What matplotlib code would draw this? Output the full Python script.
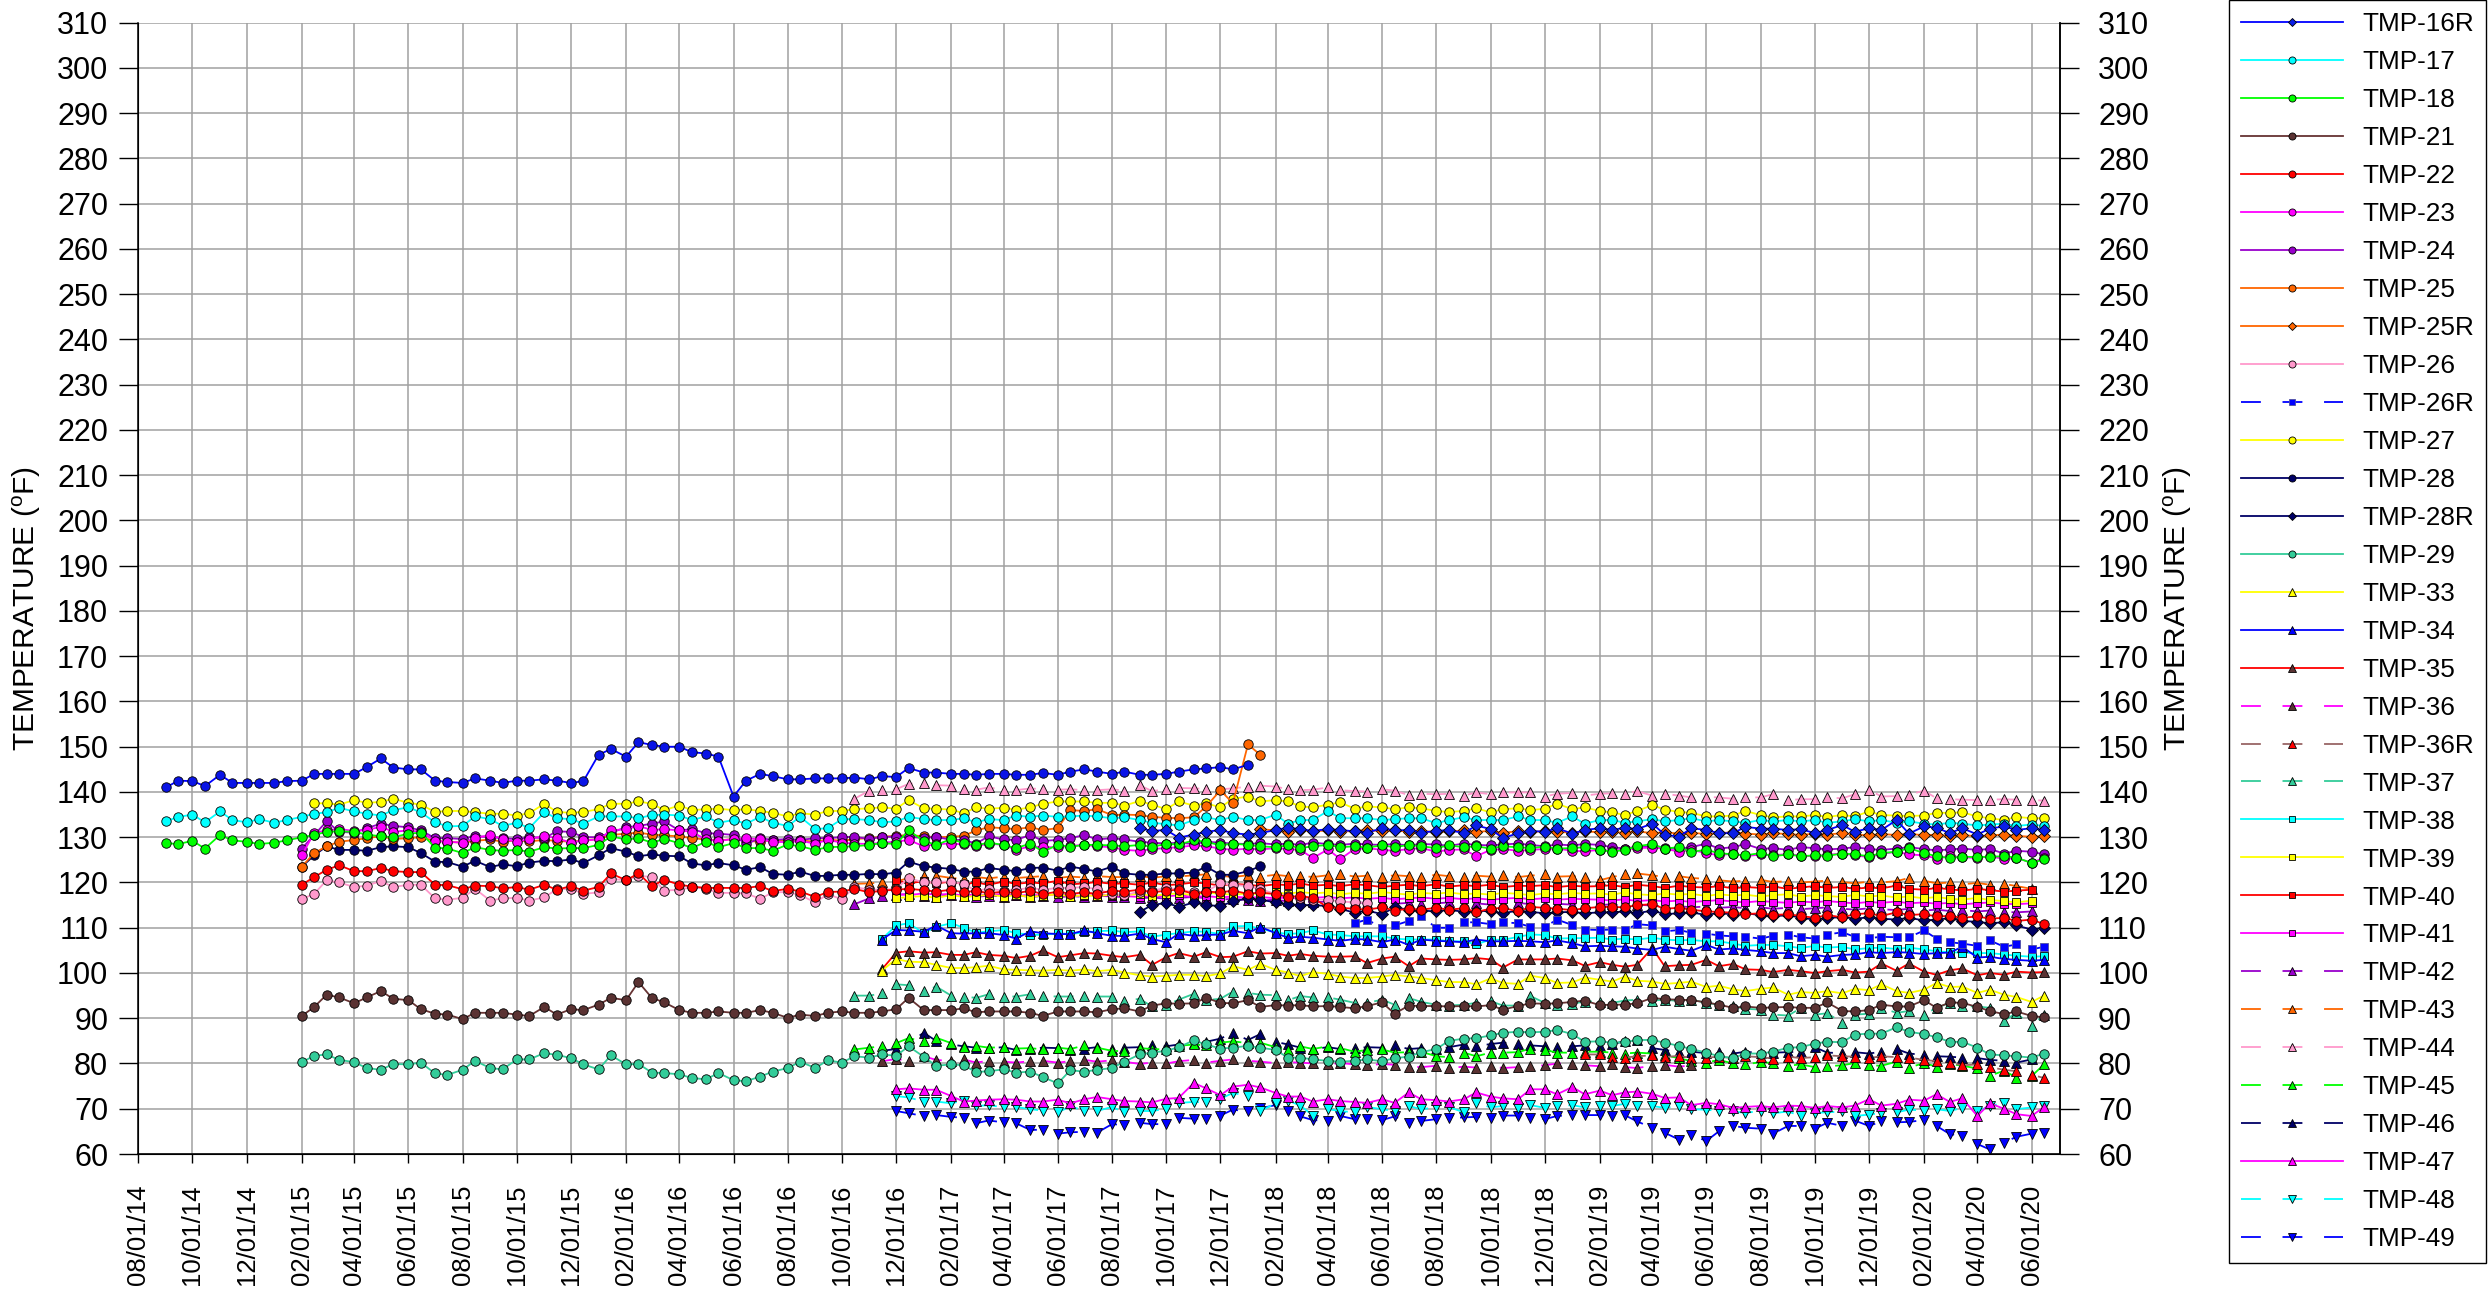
import matplotlib
matplotlib.use("Agg")
import matplotlib.pyplot as plt
import matplotlib.dates as mdates
from matplotlib.lines import Line2D
import pandas as pd

plt.rcParams["font.family"] = ["Liberation Sans", "DejaVu Sans"]
plt.rcParams["mathtext.fontset"] = "custom"
plt.rcParams["mathtext.rm"] = "Liberation Sans"

# Semi-monthly temperature readings (deg F), one list per sensor.
tmp_16 = [141, 142.5, 142.4, 141.3, 143.8, 142, 142, 142, 142, 142.4, 142.5, 144, 144, 144, 144, 145.5, 147.4,
          145.4, 145, 145, 142.5, 142.2, 142, 143, 142.5, 142, 142.5, 142.5, 142.8, 142.5, 142, 142.4, 148.2, 149.5,
          147.8, 151, 150.4, 150, 150, 148.8, 148.5, 147.8, 139, 142.5, 144, 143.5, 142.8, 142.8, 143, 143, 143,
          143.2, 142.8, 143.5, 143.3, 145.3, 144.3, 144.3, 144, 144, 143.8, 144, 144, 143.8, 143.8, 144.2, 143.8,
          144.5, 145, 144.5,
          144, 144.5, 143.8, 143.8, 144, 144.5, 145, 145.2, 145.5, 145, 146]
tmp_16r = [132, 131.4, 131.6, 129.9, 130.6, 131.2, 131.6, 130.9, 130.6, 130.9, 131.6, 132.1, 131.8, 131.4, 131.8,
           131.6, 131.3, 131, 132, 131.5, 131.6, 131, 131.4, 131.6, 130.9, 132.6, 131.8, 129.8, 130.9, 131.4, 131.2,
           132, 130.8, 131.6, 132,
           131.6, 132.1, 131.8, 133, 130.6, 130.1, 132, 131.6, 130.9, 130.9, 132.3, 131.9, 131.9, 131.6, 131.8, 130.9,
           131.6, 132.7, 131.2, 132, 131.6, 133.8, 130.8, 132.4, 132.1, 130.9, 132, 130.6, 131.9, 132.4, 131.6, 132,
           131.6]
tmp_17 = [133.5, 134.5, 135, 133.3, 135.7, 133.8, 133.3, 134, 133.2, 133.8, 134.5, 135.2, 135.5, 136.5, 135.7,
          135.2, 134.8, 136, 136.6, 135.5, 133.3, 132.4, 132.5, 134.6, 134, 132.5, 133.2, 132, 135.5, 134.2, 134,
          133, 134.6, 134.6,
          134.6, 134.2, 134.9, 135, 134.8, 133.8, 134.6, 133.2, 133.8, 133, 134.5, 133.2, 132.5, 134.5, 131.8, 132,
          134, 134, 133.8, 133.3, 133.5, 134.5, 134, 133.8, 133.8, 134.2, 133.3, 134, 133.8, 134.8, 134.5, 134.8,
          134.5, 134.6, 134.8, 134.6,
          134.2, 134.4, 133.8, 133.2, 132.9, 132.6, 133.8, 134.4, 133.8, 134.5, 133.8, 133.8, 135, 133, 133.8, 133.8,
          135.8, 134.2, 134.2, 134.2, 133.8, 134, 134.2, 134.2, 133.1, 133.8, 134.4, 133.8, 133.8, 133.8, 134.6,
          133.8, 133.8, 133.2, 134.6, 133,
          133.8, 133.8, 133.2, 133.5, 134, 133.5, 133.8, 134.2, 133.5, 133.8, 133.5, 133.2, 133.8, 133.5, 133.8,
          133.5, 133.8, 133.2, 133.5, 134, 133.5, 133.8, 133.2, 133.5, 133, 132.8, 133.2, 133, 132.6, 132.8, 133,
          132.5, 132.8, 132.5]
tmp_18 = [128.7, 128.5, 129.2, 127.5, 130.5, 129.3, 129, 128.5, 128.8, 129.3, 130, 130.5, 131.2, 131.3, 131.2,
          130.6, 130.2, 130, 130.8, 131, 127.7, 127.5, 126.5, 127.8, 127.2, 127, 127.2, 126.8, 127.8, 127.5, 127.6,
          127.6, 128.3, 130.2,
          129.5, 129.8, 128.8, 129.6, 128.7, 127.6, 129, 127.8, 128.7, 127.6, 127.6, 127, 128.4, 128, 127.2, 127.8,
          127.9, 128, 128.3, 128.7, 128.5, 131.5, 129.2, 128.3, 129.6, 128.7, 128.2, 128.8, 128.3, 127.6, 128.6,
          126.8, 128.3, 127.9, 128.3, 128.3,
          128.2, 128, 128.3, 127.9, 128.5, 128.4, 129.3, 129, 128.2, 128.6, 128.3, 128, 127.8, 128.2, 127.6, 128,
          128.3, 127.8, 128, 127.7, 128.2, 127.8, 128.3, 128, 127.6, 128.2, 127.8, 128, 127.5, 128, 127.8, 127.6,
          127.9, 127.5, 127.6, 127.8,
          127.2, 126.8, 127.2, 128, 128.5, 127.5, 127.8, 126.8, 127.2, 126.5, 126.2, 126, 126.5, 125.8, 126.2, 125.8,
          126, 125.9, 126.4, 126.2, 125.8, 126.5, 126.8, 127.6, 126.5, 125.8, 125.4, 125.7, 125.6, 125.7, 125.8,
          125.5, 124.3, 125.1]
tmp_21 = [90.5, 92.5, 95.2, 94.6, 93.3, 94.6, 96, 94.3, 94, 92, 91, 90.8, 89.8, 91.2, 91.2, 91.2, 90.8, 90.5, 92.5,
          90.8, 92, 91.8, 93, 94.5,
          94, 98, 94.5, 93.5, 91.8, 91.2, 91.2, 91.5, 91.2, 91.2, 91.8, 91.2, 90.1, 90.8, 90.5, 91.2, 91.5, 91.2,
          91.2, 91.5, 92, 94.5, 91.8, 91.8, 91.8, 92.2, 91.3, 91.5, 91.5, 91.5, 91.2, 90.5, 91.5, 91.5, 91.5, 91.3,
          92, 92.2, 91.5, 92.8, 93.3, 93.2, 93.3, 94.5, 93.4, 93.3, 94, 92.5, 92.9, 92.8, 92.9, 92.6, 92.7, 92.5,
          92.2, 92.7, 93.5, 91, 92.8, 92.7, 92.7, 92.6, 92.7, 92.6, 92.9, 91.9, 92.7, 93.3, 93.2, 93.3, 93.6, 93.9,
          92.9,
          93, 93, 93.3, 94.5, 94.2, 94.1, 94, 93.5, 93, 92.3, 92.6, 92.3, 92.4, 92.5, 92.3, 92.3, 93.5, 91.6, 91.5,
          91.8, 93, 92.6, 92.6, 94, 92.3, 93.5, 93.4, 92.5, 91.6, 90.9, 91.5, 90.5, 90.2]
tmp_22 = [119.5, 121.2, 122.8, 123.8, 122.5, 122.5, 123.2, 122.5, 122.3, 122.3, 119.5, 119.4, 118.5, 119.3, 119.2,
          118.7, 119, 118.4, 119.5, 118.4, 119.2, 118.2, 119, 122,
          120.5, 122, 119.2, 120.6, 119.5, 119.1, 118.8, 118.8, 118.8, 118.8, 119.2, 118.1, 118.6, 118, 116.8, 117.9,
          118, 118.6, 117.8, 118.2, 118.4, 118.6, 118.3, 118, 118.4, 117.8, 118.2, 117.6, 118, 117.6, 118.2, 117.4,
          118, 117.5, 117.8, 117.5,
          118.2, 118, 118.4, 117.8, 118.2, 118.4, 117.5, 118, 117.8, 118.2, 117.5, 117.8, 117.4, 116.8, 117, 116.6,
          114.5, 114.4, 114.2, 114, 114.5, 113.8, 114.2, 114, 114.4, 114, 114.3, 113.5, 114.2, 114.4, 113.6, 114.6,
          114.4, 114.2, 113.9, 114.3, 114.6,
          114.6, 114.5, 115, 115.2, 114.2, 114.4, 114, 113.6, 113.5, 113.3, 113, 113.2, 112.8, 113, 112.6, 112.2,
          112.8, 112.3, 113, 113.2, 112.6, 113.4, 112.8, 113, 112.5, 112.6, 112.2, 112.5, 112, 112.2, 111.5, 111.8,
          110.8]
tmp_23 = [126, 131, 131.5, 131.8, 131.4, 131.6, 132.3, 131.2, 131.5, 131.2, 129.2, 129, 128.8, 129.8, 130.5, 129.6,
          129, 129.6, 130.3, 129.8, 128.8, 129.3, 129.5, 131.5,
          131.8, 132.5, 131.6, 131.8, 131.5, 131.2, 129.5, 129.2, 129.6, 129.8, 129.5, 129, 128.9, 129.2, 128.6,
          129.4, 128.8, 128.6, 128.5, 128.8, 129, 129.4, 128, 128.5, 128.6, 128.4, 128, 128.6, 128.3, 127.2, 128,
          127.8, 127.8, 128.1, 128.3, 128,
          127.8, 127.2, 127, 127.4, 127.6, 127.8, 128.2, 128, 127.5, 127.2, 127.5, 127.3, 127.6, 127.4, 127.2, 125.4,
          127.3, 125.2, 127.4, 127.6, 127.2, 127, 127.4, 127.6, 126.8, 127.2, 127.3, 125.8, 127.2, 127.4, 127, 127.2,
          127.4, 127.5, 127, 126.9, 127.2,
          127, 127.3, 127.6, 127.7, 127.5, 126.8, 127.2, 126.5, 126, 126.4, 125.8, 126.2, 126, 126.3, 125.9, 125.8,
          126.1, 126.4, 126, 125.6, 126.3, 126.8, 126.2, 126, 125.3, 125.8, 125.6, 125.4, 125.8, 125.2, 125.4, 124.4,
          125.4]
tmp_24 = [127.5, 130.5, 133.5, 131.2, 131, 132, 133, 132.5, 132.2, 131.5, 129.8, 129.8, 129.6, 130.3, 130, 129.8,
          129.6, 130, 129.8, 131.3, 131.2, 130, 130, 131,
          132.2, 132.5, 133, 133.5, 131.5, 131.8, 130.9, 130.8, 130.5, 128.5, 129.8, 129.4, 129.6, 129.4, 129.8,
          129.8, 130, 130.1, 129.6, 130.1, 130.1, 130.1, 129.8, 130.1, 129.4, 129.4, 128.6, 130.2, 129.5, 129.4,
          130.5, 129.2, 129.4, 129.8, 130.5, 129.5,
          129.8, 129.5, 129, 128.8, 128.6, 128.8, 128.5, 129, 128.8, 128.6, 128.5, 128.7, 128.4, 128.6, 128.3, 128.8,
          128.5, 128.3, 128.6, 128.4, 128.3, 128.5, 128.2, 128.5, 128.4, 128.1, 128.6, 128.3, 128.2, 128.4, 128.6,
          128.3, 128, 128.4, 128.2, 128.5, 128.3,
          127.8, 127.5, 127.9, 128, 127.6, 127.4, 127.8, 128.6, 127.5, 127.8, 128.5, 127.4, 127.6, 127.2, 127.8,
          127.6, 127.3, 127.5, 127.8, 127.4, 127.2, 127.5, 127.8, 127.4, 127.1, 127.3, 127.5, 127.2, 127.4, 126.4,
          127, 126.8, 126.2]
tmp_25 = [123.5, 126.5, 128, 129, 129.4, 129.8, 130.2, 129.6, 129.8, 130, 129.2, 129, 128.8, 129.2, 129.5, 129,
          129.3, 129.1, 129.4, 129.2, 129, 129.3, 129.6, 130.5,
          130.8, 131, 130.6, 130.4, 130.2, 129.8, 129.5, 129.3, 129.6, 129.2, 129, 129.4, 129.1, 129.3, 129, 129.5,
          129.2, 129.6, 129.8, 130.1, 130.3, 130.5, 130.2, 130, 130.1, 130.3, 131.5, 132.2, 132, 131.8, 132.2, 131.6,
          132, 136, 135.8, 136.2,
          134.9, 135, 134.9, 134.5, 134.3, 134.2, 134.4, 136.8, 140.4, 137.5, 150.5, 148.2]
tmp_25r = [131.8, 131.5, 131.2, 131.6, 131.3, 131.5, 131.2, 131.4, 131.6, 131.3, 131.5, 131.2, 131.4, 131.1, 131.3,
           131.5, 131.2, 131.4, 131, 131.3, 131.1, 131.4, 131.2, 131, 131.3, 131.1,
           131.2, 131, 131.3, 130.9, 131.1, 130.8, 131, 130.7, 130.9, 131.1, 130.8, 130.6, 130.9, 130.7, 130.5, 130.8,
           130.6, 130.9, 130.6, 130.4, 130.7, 130.5, 130.8, 130.4, 130.6, 130.3, 130.5, 130.2, 130.4, 130.6, 130.3,
           130.1, 130.3]
tmp_26 = [116.3, 117.5, 120.5, 120, 119, 119.3, 120.3, 119, 119.5, 119.5, 116.5, 116.2, 116.6, 118.6, 116, 116.5,
          116.6, 116, 116.7, 118.5, 118.6, 117.5, 117.8, 120.8,
          120.5, 121.5, 121.2, 118.2, 118.4, 119, 118.6, 117.7, 117.7, 117.6, 116.4, 117.8, 117.9, 117.2, 115.6,
          117.4, 116.3, 119, 118.4, 118.4, 118.6, 121, 120, 120.2, 120.2, 119.6, 118.2, 118.6, 118.2, 118.4, 118.8,
          118.4, 118.8, 118.8, 119, 118.5,
          117.5, 117.2, 118, 118.2, 118.8, 118.5, 117.8, 118, 119.8, 119.5, 119.2, 118.5, 117.5, 117, 116.5, 116.2,
          116.2, 115.8, 115.6, 115.5]
tmp_26r = [111, 111.8, 110, 110.5, 111.5, 112.5, 110, 110, 111.2, 111.2, 110.8, 111.2, 111, 110.2, 110.2, 111.8,
           110.6, 109.6, 109.5,
           109.6, 109.4, 110.8, 110.5, 109.2, 109.5, 108.9, 108.7, 108.3, 108.1, 108, 107.6, 108.2, 108.5, 107.9,
           107.6, 108.5, 109, 108, 107.7, 108, 107.9, 107.9, 109.4, 107.6, 106.8, 106.5, 106, 107.2, 105.8, 106.3,
           105.2, 105.8]
tmp_27 = [137.5, 137.5, 137.2, 138.2, 137.6, 137.8, 138.5, 137.6, 137.2, 135.6, 135.8, 135.8, 135.5, 135.2, 135.2,
          134.8, 135.3, 137.4, 135.6, 135.4, 135.6, 136.2, 137.4,
          137.4, 137.9, 137.4, 136, 137, 136, 136.2, 136.3, 136, 136.2, 135.8, 135.4, 134.6, 135.3, 135, 135.8, 135.8,
          136.2, 136.4, 136.6, 136.3, 138.2, 136.4, 136.3, 136.1, 135.3, 136.6, 136.3, 136.5, 136.1, 136.6, 137.4,
          137.9, 137.9, 137.9, 137.6,
          137.6, 137, 138, 137.2, 136.2, 137.9, 137, 137.5, 136.6, 138.5, 139, 137.9, 138.2, 137.9, 136.8, 136.6,
          137.2, 137.7, 136.3, 136.8, 136.6, 136.2, 136.6, 136.4, 135.8, 135.6, 135.8, 136.4, 135.5, 136.2, 136.4,
          136, 136.3, 137.4, 136.2, 136.6, 135.8,
          135.5, 134.9, 135.8, 137.1, 136.1, 135.6, 135.4, 134.6, 134.6, 134.8, 135.8, 134.9, 134.4, 134.6, 134.6,
          134.9, 134.5, 134.9, 134.6, 135.7, 134.9, 134.8, 134.7, 134.8, 135.4, 135.4, 135.5, 134.6, 134.2, 133.8,
          134.5, 134.2, 134.2]
tmp_28 = [123.5, 126, 128, 127.2, 127.2, 127, 127.8, 128, 127.8, 126.5, 124.6, 124.5, 123.5, 124.8, 123.4, 124,
          123.6, 124.4, 124.8, 124.7, 125.1, 124.3, 126, 127.6,
          126.8, 125.8, 126.2, 125.9, 125.8, 124.2, 123.8, 124.3, 123.8, 122.8, 123.4, 121.9, 121.7, 122.4, 121.4,
          121.5, 121.7, 121.7, 121.9, 121.8, 122.2, 124.6, 123.6, 123.3, 123, 122.4, 122.4, 123.2, 122.8, 122.5,
          123.2, 123.3, 122.6, 123.5, 123, 122.4,
          123.5, 122, 121.7, 121.7, 122, 122, 122.2, 123.5, 121.7, 121.7, 122.5, 123.6]
tmp_28r = [113.5, 115, 115.5, 114.6, 115.6, 115, 114.8, 115.8, 116.5, 116.2, 115.6, 115.2, 115, 115, 114.8, 114.2,
           113.3, 113.8, 113, 114.5, 114, 113.8, 113.6, 114, 113.5, 113.8, 113.6, 113.2, 113.8, 113.5, 113.2, 113.4,
           113.5, 113.2, 113.4,
           113.4, 113.6, 113.2, 113.8, 113, 113.2, 113.4, 112.8, 113.3, 112.9, 113.2, 112.8, 112.5, 112.8, 112.2,
           111.8, 112.1, 112.4, 112, 112.3, 112, 111.8, 112.2, 111.6, 111.8, 112.1, 111.5, 111.3, 111, 111.2, 110.5,
           109.6, 110]
tmp_29 = [80.3, 81.7, 82, 80.8, 80.3, 79, 78.6, 79.9, 79.8, 80.2, 77.8, 77.5, 78.6, 80.6, 79, 78.7, 80.9, 80.9,
          82.3, 81.9, 81.2, 79.8, 78.7, 81.8,
          79.8, 79.9, 78, 77.9, 77.6, 76.8, 76.5, 77.9, 76.3, 76.1, 77.1, 78.2, 79, 80.4, 79, 80.7, 80.2, 81.6, 81.3,
          82, 81.7, 83.8, 81.5, 79.5, 79.8, 79.6, 78.1, 78.3, 78.7, 78, 78.2, 77, 75.6, 78.5, 78.2, 78.6,
          79, 80.4, 82, 82.4, 82.8, 83.6, 85.1, 84.2, 83.3, 83.5, 83.9, 83.5, 83, 81.3, 81.3, 80.9, 80.6, 80.4,
          80.6, 80.9, 80.5, 81.2, 81.5, 82.5, 83.2, 85, 85.5, 85.6, 86.2, 86.8, 87, 86.9, 87, 87.4, 86.5, 84.8, 84.9,
          84.6, 84.7, 85.2, 85.2, 84.6, 83.9, 83.2, 82.4, 81.6, 81.2, 82.2, 82.2, 82.6, 83.5, 83.6, 84.4, 84.8, 84.7,
          86.4, 86.6, 86.6, 88, 87, 86.5, 85.8, 84.8, 84.8, 83.5, 82, 81.8, 81.6, 81.3, 82.2]
tmp_33 = [100.5, 103.1, 102.5, 102.4, 101.8, 101.1, 101.1, 101.3, 101.6, 100.8, 100.7, 100.6, 100.5, 100.7, 100.5,
          100.8, 100.4,
          100.7, 100.1, 99.5, 99.2, 99.4, 99.6, 99.6, 99.3, 99.9, 101.5, 100.7, 102, 100.7, 100.1, 99.3, 100.2, 99.8,
          99.2, 98.9, 98.9, 99.2, 99.6, 99.2, 98.9, 98.4, 98, 98, 97.5, 98.8, 97.8, 97.6, 99.4, 98.9, 97.8, 97.9, 99,
          98.5,
          98.1, 99.2, 98.3, 98.1, 97.6, 97.8, 98.1, 96.9, 97.2, 96.4, 96, 96.5, 96.8, 95.2, 95.8, 95.6, 96, 95.5,
          96.5, 96.2, 97.5, 96, 95.6, 96.3, 97.8, 96.9, 97, 95.6, 96.3, 95.2, 94.7, 93.6, 95]
tmp_34 = [107.4, 109.5, 109.4, 109.1, 110.5, 108.8, 108.7, 108.8, 108.8, 108.4, 107.6, 109.2, 108.8, 108.6, 108.6,
          109.4, 108.8,
          108.2, 108.2, 108.7, 107.5, 106.8, 108.7, 108.2, 108.4, 108.5, 109.3, 108.8, 110.2, 108.8, 107.8, 108,
          107.8, 107.4, 107.1, 107.5, 107.4, 106.8, 107.4, 106.2, 107.4, 107.1, 107, 106.8, 107.4, 107, 107, 107.1,
          107, 106.8, 107.2, 106.6, 105.9, 106,
          105.9, 105.8, 105.4, 105.1, 105.8, 105.3, 104.9, 106.2, 105.2, 105.4, 105.1, 104.8, 104.4, 104.4, 103.7,
          104, 103.6, 104, 104.1, 104.6, 104.4, 104.6, 104.5, 104.2, 104.4, 104.5, 105.8, 103.4, 103.6, 103.1, 102.9,
          102.7, 102.9]
tmp_35 = [100.8, 104.5, 104.8, 104.5, 104.6, 104, 104, 104.6, 104, 103.8, 103.3, 103.8, 105, 103.5, 103.9, 104.4,
          104.3,
          103.8, 103.5, 104, 101.8, 103.5, 104.4, 103.6, 104.6, 103.5, 103.6, 104.8, 104.3, 104.4, 103.8, 104.2,
          103.8, 103.6, 103.6, 103.7, 102.2, 103.2, 103.6, 101.5, 103.2, 103, 102.9, 103, 103.3, 103, 101.2, 103, 103,
          103, 103.2, 102.8, 101.6, 102.4,
          101.8, 101.4, 101.8, 105.5, 101.5, 101.7, 101.8, 102.9, 101.5, 102, 100.8, 100.7, 100.2, 100.7, 100.4, 100,
          100.4, 100.7, 100.1, 100.3, 102.1, 100.5, 102.1, 100.3, 99.6, 100.6, 101, 99.5, 100, 99.6, 100.3, 100.1,
          100.2]
tmp_36 = [80.5, 81, 80.6, 81.6, 80.8, 80.5, 80.9, 80.2, 80.6, 80.4, 80.2, 80.5, 80.6, 80.2, 80.5, 80.8, 80.4, 80.7,
          80.4, 79.9, 80.2, 80, 80.5, 80.8, 80.2, 80.6, 80.9, 80.6, 80.4, 80.1, 80.3, 80.2, 80, 79.8, 80.1, 79.8,
          79.6, 79.9, 79.7, 79.3, 79.2, 79.5, 79, 79.3, 79.1, 79.4, 79, 79.2, 79.4, 79.6, 80, 79.8, 79.6,
          79.4, 79.8, 79.2, 79, 79.5, 79.7, 79.3, 79.6]
tmp_36r = [82, 82, 81.5, 81.3, 81.6, 81.8, 81.4, 81.7, 81.2, 81.3, 81.5, 81.2, 81.6, 81.4, 81.1, 81.5, 81.2, 81.4,
           81.8, 81.6, 81.5, 81.2, 81.6, 81.4, 81.3, 80.8, 80.5, 80.2, 79.6, 79.8, 79.2, 78.6, 78.3, 77.5, 76.8]
tmp_37 = [95, 95, 95.5, 97.5, 97.3, 96, 97, 95, 94.8, 94.5, 95.3, 94.8, 94.8, 95.3, 94.9, 94.8, 94.8, 95, 94.8,
          94.8, 93.8, 94.3, 92.6, 92.9, 94.1, 95.4, 94, 94.3, 95.9, 95.6, 95.2, 95.1, 94, 94.9, 94.6, 94.6, 94.1,
          93.4, 93.4, 94.1, 93, 94.5, 93.6, 93, 92.8, 93, 93.4, 93.8, 92.8, 92.8, 94.9, 93.4, 93, 93.2, 93.7, 93.7,
          93.4, 93.9, 94.1, 93.9, 94.1, 93.8, 94.1, 93.4, 93, 92.6, 92.1, 91.9, 90.8, 90.6, 92.2, 90.8, 91.1, 89,
          90.8, 91, 92.3, 91.2, 91.6, 90.8, 92.3, 93.4, 92.7, 92.6, 92.3, 89.4, 91.2, 88.2, 90.8]
tmp_38 = [107.5, 110.5, 111, 108.8, 110.2, 111, 110, 108.9, 109.2, 109.5, 108.8, 108.5, 108.4, 108.8, 108.6, 109,
          109.2,
          109.4, 109, 109.2, 108, 108.5, 108.8, 109.2, 109.1, 108.6, 110.3, 110.4, 109.8, 109, 108.6, 108.8, 109.4,
          108.5, 108.4, 108.1, 108.1, 108.1, 107.6, 107.4, 107.4, 107.4, 107, 107, 106.3, 107.4, 107.3, 108, 108.5,
          108.4, 107.6, 107.7, 107.7, 107.8,
          107.4, 107.6, 107.4, 107.8, 107.4, 107.2, 107.3, 107, 107, 106.5, 106, 106.2, 106.2, 105.9, 105.5, 106,
          105.6, 105.8, 105.2, 105.5, 105.6, 105.3, 105.6, 105.2, 104.8, 104.6, 104.5, 104.4, 104.4, 104.1, 103.8,
          103.6, 103.7]
tmp_39 = [116.5, 116.8, 117, 116.6, 117.2, 116.8, 117, 117.3, 116.9, 117.2, 116.8, 117.1, 117.4, 116.9, 117.2, 117,
          117.3,
          117.2, 117.5, 117, 117.4, 117.6, 117.2, 117.8, 117.5, 117.3, 117.6, 117.4, 117.8, 117.5, 117.9, 117.6,
          117.8, 117.4, 117.7, 117.5, 117.9, 117.6, 117.3, 117.7, 117.5, 117.8, 117.4, 117.6, 117.3, 117.7, 117.5,
          117.2, 117.6, 117.4, 117.7, 117.5,
          117.6, 117.3, 117.8, 117.4, 117.2, 117.6, 117.3, 117.5, 117, 117.4, 117.1, 117.3, 116.9, 117.2, 117.4,
          116.9, 117.2, 117, 116.8, 117.3, 116.9, 117.1, 116.7, 116.9, 116.5, 116.8, 116.4, 116.2, 116.6, 116.1,
          115.9, 115.6, 116]
tmp_40 = [120.5, 119.8, 120.3, 119.8, 120.2, 119.6, 120, 119.5, 120.2, 119.7, 120, 119.8, 120.4, 119.6, 119.8,
          120.1, 119.7,
          119.8, 119.5, 120, 119.4, 119.6, 120, 119.8, 119.3, 119.7, 119.5, 119.2, 119.6, 119.4, 119.8, 119.3, 119.5,
          119.2, 119.6, 119.4, 119, 119.3, 119.5, 119.2, 119.6, 119.1, 119.4, 119.2, 119.5, 119, 119.3, 119.2, 119.4,
          119, 119.3, 119.1,
          119.2, 119.4, 119, 119.5, 119.2, 118.8, 119.3, 119, 118.9, 119.2, 118.7, 119, 118.8, 119.1, 118.6, 118.9,
          119.2, 118.8, 119, 118.6, 118.9, 118.7, 119.3, 118.6, 118.4, 118.8, 118.5, 118.2, 118.6, 118.3, 118,
          118.2, 118.4]
tmp_41 = [117.5, 117.2, 117.6, 117.3, 117.5, 117.1, 117.4, 117.2, 117.5, 117, 117.3, 117.1, 117.4, 117.2, 117,
          117.3, 117.1,
          117, 116.8, 117.1, 116.9, 117.2, 116.8, 117, 116.7, 116.9, 116.6, 116.8, 116.5, 116.7, 116.4, 116.6, 116.8,
          116.5, 116.7, 116.4, 116.6, 116.3, 116.5, 116.7, 116.4, 116.6, 116.3, 116.5, 116.2, 116.4, 116.6, 116.3,
          116.5, 116.2, 116.4, 116.3,
          116.2, 116, 116.3, 115.9, 116.1, 115.8, 116, 115.7, 115.9, 116.1, 115.8, 115.6, 115.9, 115.7, 115.5, 115.8,
          115.6, 115.9, 115.6, 115.4, 115.7, 115.5, 115.8, 115.4, 115.6, 115.3, 115.5, 115.2, 115.4, 115.6, 115.3,
          115.2, 115.4]
tmp_42 = [115.2, 116.5, 117, 117.2, 117.5, 117, 116.8, 117.2, 117, 116.8, 117.1, 116.9, 117.2, 116.8, 117, 116.7,
          117, 116.8, 117.1, 116.9,
          116.8, 116.5, 116.7, 116.4, 116.6, 116.8, 116.5, 116.2, 116.4, 116.1, 116, 116.2, 115.8, 115.9, 115.6,
          115.8, 115.5, 115.7, 115.4, 115.6, 115.3, 115.5, 115.2, 115.4, 115.6, 115.2, 115.4, 115.1, 115.3, 115.5,
          115.2, 115, 115.3, 115.1, 115.2,
          115, 115.2, 114.8, 115.1, 114.9, 114.6, 114.8, 114.5, 114.7, 114.4, 114.6, 114.3, 114.5, 114.2, 114.4,
          114.1, 114.3, 114.5, 114.2, 114, 114.3, 114.1, 113.9, 114.2, 113.8, 114, 113.7, 113.9, 113.6, 113.8, 113.5,
          113.4, 113.6]
tmp_43 = [119.7, 119.8, 120, 120.2, 121, 121.4, 121.5, 121, 120.8, 121.2, 120.9, 121.3, 121, 121.2, 121.4, 121,
          121.3, 121.1, 121.4, 121.2,
          121.2, 121.5, 121, 121.4, 121.3, 121.6, 121.8, 121.5, 121.2, 121.6, 121.3, 121.7, 121.4, 121.5, 121.2,
          121.6, 121.9, 121.3, 121.5, 121.2, 121.6, 121.4, 121.3, 121.7, 121.4, 121.2, 121.5, 121.3, 121.6, 121.2,
          121.5, 121.8, 121.3, 121.4, 121.2,
          120.5, 121.2, 121.8, 122, 121.6, 121.2, 121.4, 121, 120.8, 120.5, 120.2, 120.4, 120.6, 120.1, 120.3, 120,
          120.2, 120.4, 120.1, 119.8, 120.2, 120, 120.3, 121, 120.4, 119.8, 120, 119.6, 119.9, 119.5, 119.7, 119.2,
          118.6]
tmp_44 = [138.5, 140.3, 140.4, 140.6, 141.8, 142, 141.5, 141.4, 140.6, 140.5, 141, 140.5, 140.4, 140.8, 140.6,
          140.5, 140.6, 140.4, 140.4,
          140.6, 140.3, 141.5, 140.2, 140.6, 140.9, 140.8, 140.7, 140.6, 140.8, 141.2, 141.4, 141.2, 140.6, 140.4,
          140.5, 141, 140.4, 140.2, 140.1, 140.6, 140.3, 139.3, 139.6, 139.5, 139.6, 139.2, 139.9, 139.5, 139.9,
          139.9, 139.9, 139, 139.6, 139.8, 139.2, 139.6,
          139.7, 139.6, 140.2, 139.2, 139.6, 139.2, 138.8, 138.9, 138.8, 138.5, 138.8, 138.8, 139.5, 138.2, 138.4,
          138.4, 138.8, 138.6, 139.5, 140.5, 139, 139.1, 139.4, 140.3, 138.6, 138.4, 138.3, 138.2, 138.3, 138.4,
          138.3, 138.2, 138.1]
tmp_45 = [83.1, 83.5, 83.8, 84.5, 85.6, 84.9, 85.7, 84.5, 83.7, 83.9, 83.5, 83.6, 83.3, 83.4, 83.1, 83.5, 83.2, 84,
          83.5,
          82.8, 82.7, 83.4, 83.2, 83.1, 83.9, 84.2, 84, 84.6, 84.9, 84.5, 84.6, 83.6, 82.9, 83.8, 83.2, 83.8, 83.4,
          82.6, 83, 83.1, 82.4, 82.5, 82.6, 81.6, 81.4, 82.4, 81.6, 82.4, 82.4, 82.5, 83.3, 83, 82.4, 82.4, 82.6,
          82.6,
          82.4, 82.2, 82.4, 82.2, 81.8, 81.2, 80.5, 80.2, 80.8, 80, 79.8, 80.3, 80.1, 79.5, 79.8, 79.2, 79.4, 79.6,
          80.1, 79.6, 79.5, 80.4, 79.1, 80.1, 79.3, 79.9, 79.5, 78.9, 77.3, 78.4, 76.9, 77.2, 79.8]
tmp_46 = [82.8, 83.2, 84.5, 86.8, 85, 84.2, 83.8, 83.5, 83.4, 83.6, 83, 83.2, 83.5, 83.4, 83, 83.3, 83.6, 83.1,
          83.5, 83.6, 84, 83.8, 84.2, 84.5, 84.8, 85.5, 86.8, 85.2, 86.5, 84.8, 84.2, 83.5, 83.2, 83.6, 83.2, 83.4,
          83.6, 83.5, 84, 83.2, 83.4, 83.1, 83.6, 84.2, 83.8, 84.3, 84.6, 84.4, 84, 83.8, 83.7, 83.8, 84,
          83.9, 84.2, 85, 85.3, 83.4, 83, 82.5, 82.6, 82.3, 82.5, 82.2, 82.6, 82.3, 82.4, 82.5, 82.6, 83.6, 82.4,
          82.3, 82.5, 82.2, 82.6, 83.2, 82.2, 81.9, 81.6, 81.5, 81.3, 81.2, 80.8, 80.6, 80.2, 80.9]
tmp_47 = [74.3, 74.5, 74.2, 74.2, 72.8, 71.6, 71.8, 72, 72.1, 72, 71.6, 71.6, 72, 71.2, 72.1, 72.6,
          72.1, 71.7, 71.6, 71.4, 72.2, 72.4, 75.7, 74.5, 73, 74.9, 75.3, 74.7, 73.5, 72.7, 72.7, 71.6, 72.1, 71.7,
          71.5, 71.3, 72.1, 71.3, 73.6, 72.1, 71.9, 71.6, 72.1, 73.6, 72.7, 72.3, 72.1, 74.3, 74.3, 73.2, 74.8,
          73.2, 74,
          73, 73.6, 73.8, 73.3, 72.4, 72.5, 70.8, 71.3, 71, 70.2, 70.4, 70.6, 70.3, 70.7, 70.6, 70.2, 70.6, 70.3,
          70.7, 72.1, 70.7, 71.1, 72, 71.8, 73.2, 71.5, 72.3, 68.4, 71.2, 70, 68.8, 68.4, 70.4]
tmp_48 = [72.8, 72.5, 71.6, 71.6, 71.2, 71.8, 70.6, 70.8, 70.3, 70.4, 69.9, 69.6, 69.2, 70.5, 69.6, 69.5,
          70.4, 69.2, 69.5, 69.5, 70, 71.3, 71.5, 71.4, 72.2, 73.5, 72.8, 69.5, 71.2, 71.8, 70.7, 68.5, 69.9, 69.5,
          69.2, 70.4, 69.9, 69.5, 70.6, 69.9, 70.3, 70.4, 69.2, 71.3, 70.3, 70.6, 70.1, 70.8, 70.2, 70.6, 70.8,
          70.3, 70.6,
          70.6, 71.1, 70.6, 70.6, 70.2, 70.6, 69.9, 69.8, 69.5, 69.4, 69.1, 69.5, 69, 69.4, 68.4, 69.1, 69.2, 69.4,
          68.4, 68.7, 69.1, 69.2, 69.8, 69.6, 69.9, 69.5, 70.2, 69.4, 70.6, 71.3, 69.9, 70.3, 70.6]
tmp_49 = [69.5, 69, 68.4, 68.6, 68.2, 68, 66.8, 67.4, 67, 66.8, 65.3, 65.4, 64.5, 64.8, 64.9, 64.7,
          66.6, 66.4, 66.9, 66.6, 66.6, 68, 67.8, 67.8, 68.5, 69.8, 69.4, 70.1, 70.8, 69.5, 68.3, 67.5, 67.3, 68.4,
          67.7, 67.7, 67.5, 68.3, 66.9, 67.3, 67.7, 67.9, 68.1, 68.2, 67.9, 68.5, 68.5, 68, 67.7, 68.4, 68.6, 68.6,
          68.6,
          68.4, 68.6, 67.2, 65.8, 64.7, 63.2, 64.2, 62.9, 65, 66.2, 65.8, 65.6, 64.5, 66.2, 66.2, 65.6, 66.9, 66.2,
          67.4, 66.2, 67.2, 67, 67.1, 67.5, 66.2, 64.4, 64, 62.2, 61, 62.5, 63.8, 64.5, 64.7]

# first reading of each list (readings then every 1st and 15th of the month)
starts = {
    "TMP-16": "2014-09-01", "TMP-16R": "2017-09-01", "TMP-17": "2014-09-01", "TMP-18": "2014-09-01",
    "TMP-21": "2015-02-01", "TMP-22": "2015-02-01", "TMP-23": "2015-02-01", "TMP-24": "2015-02-01",
    "TMP-25": "2015-02-01", "TMP-25R": "2018-01-15", "TMP-26": "2015-02-01", "TMP-26R": "2018-05-01",
    "TMP-27": "2015-02-15", "TMP-28": "2015-02-01", "TMP-28R": "2017-09-01", "TMP-29": "2015-02-01",
    "TMP-33": "2016-11-15", "TMP-34": "2016-11-15", "TMP-35": "2016-11-15", "TMP-36": "2016-11-15",
    "TMP-36R": "2019-01-15", "TMP-37": "2016-10-15", "TMP-38": "2016-11-15", "TMP-39": "2016-12-01",
    "TMP-40": "2016-12-01", "TMP-41": "2016-12-01", "TMP-42": "2016-10-15", "TMP-43": "2016-10-15",
    "TMP-44": "2016-10-15", "TMP-45": "2016-10-15", "TMP-46": "2016-11-15", "TMP-47": "2016-12-01",
    "TMP-48": "2016-12-01", "TMP-49": "2016-12-01",
}

BLUE, CYAN, GREEN, RED = "#0000FF", "#00FFFF", "#00FF00", "#FF0000"
MAGENTA, PURPLE, ORANGE, PINK = "#FF00FF", "#9900CC", "#FF6600", "#FF99CC"
YELLOW, NAVY, TEAL, BROWN = "#FFFF00", "#000066", "#33CC99", "#663333"
SOLID, DASH = "-", (0, (11, 12))

# label, values, line colour, line style, marker, marker face
series = [
    ("TMP-16", tmp_16, BLUE, SOLID, "o", "#0A14E6"),
    ("TMP-16R", tmp_16r, BLUE, SOLID, "D", "#0A1EE6"),
    ("TMP-17", tmp_17, CYAN, SOLID, "o", CYAN),
    ("TMP-18", tmp_18, GREEN, SOLID, "o", GREEN),
    ("TMP-21", tmp_21, BROWN, SOLID, "o", "#5A3232"),
    ("TMP-22", tmp_22, RED, SOLID, "o", RED),
    ("TMP-23", tmp_23, MAGENTA, SOLID, "o", MAGENTA),
    ("TMP-24", tmp_24, PURPLE, SOLID, "o", PURPLE),
    ("TMP-25", tmp_25, ORANGE, SOLID, "o", ORANGE),
    ("TMP-25R", tmp_25r, ORANGE, SOLID, "D", ORANGE),
    ("TMP-26", tmp_26, PINK, SOLID, "o", PINK),
    ("TMP-26R", tmp_26r, BLUE, DASH, "s", BLUE),
    ("TMP-27", tmp_27, YELLOW, SOLID, "o", YELLOW),
    ("TMP-28", tmp_28, NAVY, SOLID, "o", NAVY),
    ("TMP-28R", tmp_28r, NAVY, SOLID, "D", NAVY),
    ("TMP-29", tmp_29, TEAL, SOLID, "o", TEAL),
    ("TMP-33", tmp_33, YELLOW, SOLID, "^", YELLOW),
    ("TMP-34", tmp_34, BLUE, SOLID, "^", BLUE),
    ("TMP-35", tmp_35, RED, SOLID, "^", "#5A3232"),
    ("TMP-36", tmp_36, MAGENTA, DASH, "^", "#5A3232"),
    ("TMP-36R", tmp_36r, "#996666", DASH, "^", RED),
    ("TMP-37", tmp_37, TEAL, DASH, "^", TEAL),
    ("TMP-38", tmp_38, CYAN, SOLID, "s", CYAN),
    ("TMP-39", tmp_39, YELLOW, SOLID, "s", YELLOW),
    ("TMP-40", tmp_40, RED, SOLID, "s", RED),
    ("TMP-41", tmp_41, MAGENTA, SOLID, "s", MAGENTA),
    ("TMP-42", tmp_42, PURPLE, DASH, "^", PURPLE),
    ("TMP-43", tmp_43, ORANGE, DASH, "^", ORANGE),
    ("TMP-44", tmp_44, PINK, DASH, "^", PINK),
    ("TMP-45", tmp_45, GREEN, DASH, "^", GREEN),
    ("TMP-46", tmp_46, NAVY, DASH, "^", NAVY),
    ("TMP-47", tmp_47, MAGENTA, SOLID, "^", MAGENTA),
    ("TMP-48", tmp_48, CYAN, DASH, "v", CYAN),
    ("TMP-49", tmp_49, BLUE, DASH, "v", BLUE),
]
MARKER_SIZE = {"o": 6.8, "D": 5.8, "s": 6.3, "^": 7.4, "v": 7.4}
UNLISTED = {"TMP-16"}  # plotted but kept out of the legend

W, H = 2492, 1290
fig = plt.figure(figsize=(W / 100, H / 100), dpi=100)
ax = fig.add_axes([138.3 / W, 1 - 1154 / H, (2060 - 138.3) / W, (1154 - 22.7) / H])

handles = []
n = len(series)
for i, (label, vals, color, ls, marker, face) in enumerate(series):
    dates = pd.date_range(starts[label], periods=len(vals), freq="SMS")
    edge = "#5050A0" if label == "TMP-26R" else "black"
    style = dict(color=color, linestyle=ls, linewidth=1.3, marker=marker, markersize=MARKER_SIZE[marker],
                 markerfacecolor=face, markeredgecolor=edge, markeredgewidth=0.6)
    # earlier sensors sit on top of later ones
    ax.plot(dates, vals, zorder=3 + (n - i) * 0.05, **style)
    if label not in UNLISTED:
        handles.append(Line2D([], [], label=label, **style))

ax.set_xlim(pd.Timestamp("2014-08-01"), pd.Timestamp("2020-07-03"))
ax.set_ylim(60, 310)
ax.set_yticks(range(60, 311, 10))
ax.xaxis.set_major_locator(mdates.MonthLocator(bymonth=[2, 4, 6, 8, 10, 12], bymonthday=1))
ax.xaxis.set_major_formatter(mdates.DateFormatter("%m/%d/%y"))
ax.grid(True, color="#A0A0A0", linewidth=1.1)
ax.set_axisbelow(True)
ax.tick_params(axis="y", direction="out", length=13.7, width=1.0, pad=8, labelsize=22)
ax.tick_params(axis="x", direction="out", length=6.5, width=1.0, pad=15.5, labelsize=18.5, labelrotation=90)
ax.spines["top"].set_visible(False)
for side in ("left", "bottom", "right"):
    ax.spines[side].set_linewidth(1.1)

ax_r = ax.twinx()
ax_r.set_ylim(60, 310)
ax_r.set_yticks(range(60, 311, 10))
ax_r.tick_params(axis="y", direction="out", length=13.7, width=1.0, pad=13.7, labelsize=22)
ax_r.spines["top"].set_visible(False)
ax_r.spines["right"].set_linewidth(1.1)

ylabel = r"TEMPERATURE ($\mathregular{^o}$F)"
fig.text(27 / W, 1 - 608 / H, ylabel, rotation=90, ha="center", va="center", fontsize=21.5)
fig.text(2178 / W, 1 - 608 / H, ylabel, rotation=90, ha="center", va="center", fontsize=21.5)

# legend box is anchored at the bottom and runs just past the top edge
leg = fig.legend(handles=handles, loc="lower left", bbox_to_anchor=(2229 / W, 1 - 1263 / H),
                 bbox_transform=fig.transFigure, borderaxespad=0, fontsize=18.8, labelspacing=0.535,
                 handlelength=3.9, handletextpad=0.75, borderpad=0.45, markerscale=0.75,
                 fancybox=False, framealpha=1, edgecolor="black")
leg.get_frame().set_linewidth(1.0)

fig.savefig("out.png", dpi=100, facecolor="white")
